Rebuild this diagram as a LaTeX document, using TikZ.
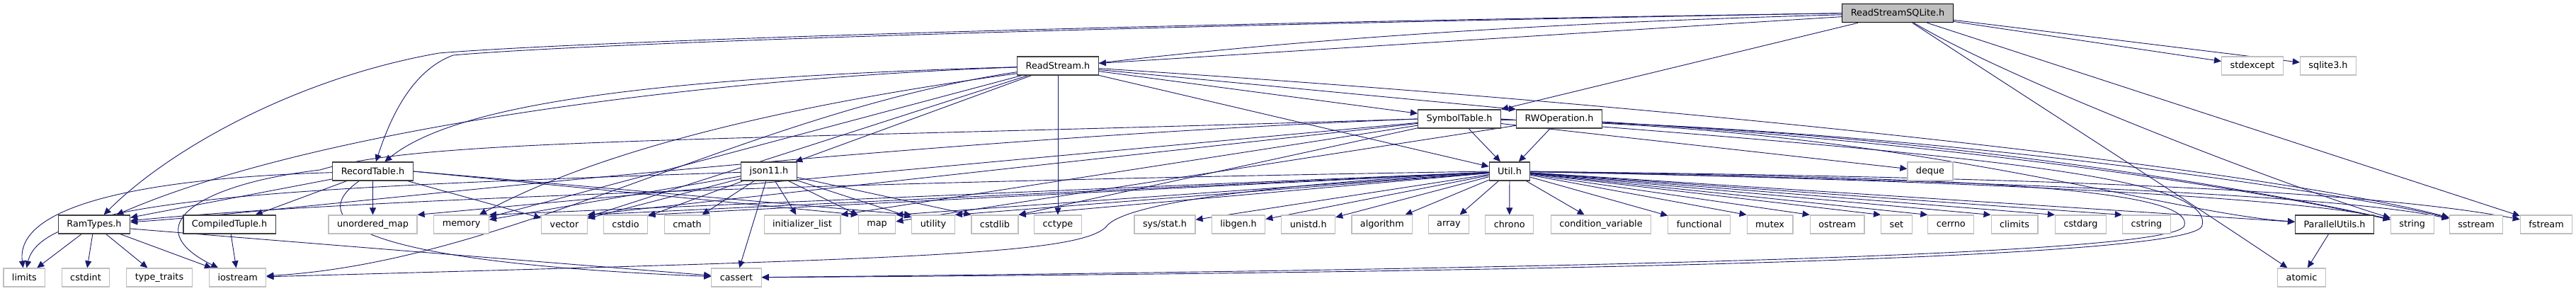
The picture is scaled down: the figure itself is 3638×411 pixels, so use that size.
\documentclass[tikz,border=0pt]{standalone}
\usepackage{fontspec}
\setmainfont{DejaVu Sans}
\usepackage{xcolor}
\usepackage{tikz}
\usetikzlibrary{arrows.meta,backgrounds}
\definecolor{edgeblue}{RGB}{25,25,112}
\definecolor{boxgray}{RGB}{191,191,191}
\definecolor{boxdark}{RGB}{64,64,64}
\newcommand{\incfont}{\fontsize{12.8pt}{15pt}\selectfont}

\begin{document}
\begin{tikzpicture}[x=1pt, y=-1pt,
  hdr/.style={draw=boxdark, line width=1.2pt, fill=white, minimum height=26pt,
              inner xsep=12pt, inner ysep=0pt, font=\incfont},
  sys/.style={hdr, draw=boxgray},
  top/.style={hdr, draw=black, fill=boxgray},
  inc/.style={-{Triangle[length=10pt,width=9pt]}, edgeblue, line width=0.9pt},
]
\useasboundingbox (0,0) rectangle (3638,411);

% the file itself and the project headers
\node[top] (rss) at (2680,18.7) {ReadStreamSQLite.h};
\node[hdr] (rs) at (1494,93) {ReadStream.h};
\node[hdr] (sym) at (2061,168) {SymbolTable.h};
\node[hdr] (rwop) at (2202,168) {RWOperation.h};
\node[hdr] (rect) at (526.5,242) {RecordTable.h};
\node[hdr] (json) at (1086,242) {json11.h};
\node[hdr] (util) at (2132,242) {Util.h};
\node[hdr] (ram) at (133,317) {RamTypes.h};
\node[hdr] (ctuple) at (324,317) {CompiledTuple.h};
\node[hdr] (parallel) at (3297,317) {ParallelUtils.h};

% system headers
\node[sys] (stdexcept) at (3181,93) {stdexcept};
\node[sys] (sqlite) at (3288,93) {sqlite3.h};
\node[sys] (deque) at (2726,242) {deque};
\node[sys] (umap) at (526.5,317) {unordered\_map};
\node[sys] (memory) at (651.6,317) {memory};
\node[sys] (vector) at (797,317) {vector};
\node[sys] (cstdio) at (883.6,317) {cstdio};
\node[sys] (cmath) at (970.6,317) {cmath};
\node[sys] (initlist) at (1133,317) {initializer\_list};
\node[sys] (map) at (1238.6,317) {map};
\node[sys] (utility) at (1318,317) {utility};
\node[sys] (cstdlib) at (1405,317) {cstdlib};
\node[sys] (cctype) at (1494,317) {cctype};
\node[sys] (sysstat) at (1645,317) {sys/stat.h};
\node[sys] (libgen) at (1749,317) {libgen.h};
\node[sys] (unistd) at (1847.7,317) {unistd.h};
\node[sys] (algorithm) at (1951.8,317) {algorithm};
\node[sys] (array) at (2046,317) {array};
\node[sys] (chrono) at (2131.7,317) {chrono};
\node[sys] (condvar) at (2261,317) {condition\_variable};
\node[sys] (functional) at (2399.7,317) {functional};
\node[sys] (mutex) at (2499.6,317) {mutex};
\node[sys] (ostream) at (2594.6,317) {ostream};
\node[sys] (set) at (2678.4,317) {set};
\node[sys] (cerrno) at (2755.3,317) {cerrno};
\node[sys] (climits) at (2845,317) {climits};
\node[sys] (cstdarg) at (2938.4,317) {cstdarg};
\node[sys] (cstring) at (3031.4,317) {cstring};
\node[sys] (string) at (3406.7,317) {string};
\node[sys] (sstream) at (3497,317) {sstream};
\node[sys] (fstream) at (3596,317) {fstream};
\node[sys] (limits) at (34.4,392) {limits};
\node[sys] (cstdint) at (121,392) {cstdint};
\node[sys] (typetraits) at (225,392) {type\_traits};
\node[sys] (iostream) at (335.7,392) {iostream};
\node[sys] (cassert) at (1040,392) {cassert};
\node[sys] (atomic) at (3250.5,392) {atomic};

\begin{scope}[on background layer]
% straight includes
\foreach \src/\dst in {rss/rs, rss/stdexcept, rss/sqlite, rss/fstream,
    rs/memory, rs/vector, rs/json, rs/cctype, rs/sym, rs/util,
    rect/ram, rect/ctuple, rect/umap, rect/vector,
    ram/limits, ram/cstdint, ram/typetraits, ram/iostream, ctuple/iostream,
    json/memory, json/vector, json/cstdio, json/cmath, json/cassert,
    json/initlist, json/map, json/utility,
    sym/util, sym/deque, rwop/util, rwop/map,
    util/sysstat, util/libgen, util/unistd, util/algorithm, util/array,
    util/chrono, util/condvar, util/functional, util/parallel,
    parallel/atomic}{
  \draw[inc] (\src) -- (\dst);
}
% includes that land on a corner of the box
\foreach \src/\dst in {util/memory, util/vector, util/cstdio, util/map,
    util/utility, util/cstdlib, sym/umap, sym/vector, sym/initlist,
    sym/cstdlib}{
  \draw[inc] (\src) -- (\dst.north east);
}
\foreach \src/\dst in {util/mutex, util/ostream, util/set, util/cerrno,
    util/climits, util/cstdarg, util/cstring, json/cstdlib, rs/rwop}{
  \draw[inc] (\src) -- (\dst.north west);
}
\draw[inc] (rss) -- (sym.north east);
\draw[inc] (rect.east) -- (map.north west);
\draw[inc] (rect.east) -- (utility.north west);
\draw[inc] ([yshift=-6pt]ram.east) -- (cassert);

% long curved includes
\draw[inc] (rss.west) .. controls (1500,35) and (800,60) .. (620,75)
  .. controls (420,110) and (240,210) .. (ram);
\draw[inc] (rss.west) .. controls (1500,38) and (820,62) .. (640,78)
  .. controls (580,100) and (550,170) .. (rect);
\draw[inc] (rss) .. controls (1700,45) and (1000,130) .. (memory);
\draw[inc] (rss) .. controls (2850,120) and (3250,270) .. (string);
\draw[inc] (rss) .. controls (2850,130) and (3100,290) .. (atomic);
\draw[inc] (rs) .. controls (1000,110) and (450,180) .. (ram);
\draw[inc] (rs) .. controls (900,110) and (640,150) .. (rect);
\draw[inc] (rs) .. controls (1050,160) and (720,370) .. (iostream);
\draw[inc] (rs) .. controls (2400,150) and (3200,240) .. (sstream);
\draw[inc] (rect) .. controls (250,250) and (20,280) .. (limits);
\draw[inc] (rect) .. controls (430,310) and (500,370) .. (cassert);
\draw[inc] (json) .. controls (400,265) and (60,280) .. (limits);
\draw[inc] (sym.west) .. controls (1200,200) and (400,300) .. (ram);
\draw[inc] (sym.west) .. controls (1000,200) and (600,195) .. (452,240)
  .. controls (280,260) and (190,320) .. (iostream);
\draw[inc] (sym) .. controls (2700,180) and (3050,300) .. (parallel);
\draw[inc] (sym) .. controls (2700,180) and (3200,270) .. (string);
\draw[inc] (sym) .. controls (2700,180) and (3300,270) .. (sstream);
\draw[inc] (rwop) .. controls (2700,200) and (3100,250) .. (string);
\draw[inc] (util.west) .. controls (1000,260) and (400,290) .. (ram);
\draw[inc] (util) .. controls (1800,260) and (1600,285) .. (1565,317)
  .. controls (1535,360) and (1300,365) .. (iostream);
\draw[inc] (util) .. controls (2800,255) and (3250,280) .. (string);
\draw[inc] (util) .. controls (2800,255) and (3300,275) .. (sstream);
\draw[inc] (util) .. controls (2900,250) and (3350,270) .. (fstream);
% the two includes of cassert that loop round cstring
\draw[inc] (util.east) .. controls (2600,250) and (3100,255) .. (3085,318)
  .. controls (3083,365) and (2000,382) .. (cassert);
\draw[inc] (sym.east) .. controls (2800,220) and (3125,250) .. (3110,318)
  .. controls (3108,370) and (2000,386) .. (cassert);
\end{scope}
\end{tikzpicture}
\end{document}
